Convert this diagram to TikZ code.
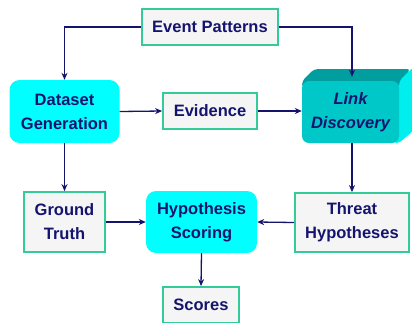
\documentclass[tikz,border=0pt]{standalone}
\usepackage{fontspec}
\setmainfont{Liberation Sans}
\usepackage{xcolor}
\usetikzlibrary{positioning,arrows.meta,calc}
\definecolor{navy}{HTML}{14146E}
\definecolor{frame}{HTML}{33CC99}
\definecolor{paper}{HTML}{F5F5F5}
\definecolor{aqua}{HTML}{00FFFF}
\definecolor{linkfront}{HTML}{00C8C8}
\definecolor{linktop}{HTML}{009E9E}
\definecolor{linkside}{HTML}{00EEEE}

\begin{document}
\begin{tikzpicture}[x=1pt,y=1pt,
  font=\fontsize{16.5}{24}\selectfont\bfseries,
  plain/.style={draw=frame, line width=1.8pt, fill=paper, text=navy, align=center, inner sep=0pt},
  soft/.style={fill=aqua, rounded corners=10pt, text=navy, align=center, inner sep=0pt},
  flow/.style={draw=navy, line width=1.3pt, -{Stealth[length=7pt,width=6pt]}}]
\useasboundingbox (0,0) rectangle (412,-322);
% boxes
\node[plain, minimum width=136pt, minimum height=36pt] (events) at (210,-27) {Event Patterns};
\node[soft, minimum width=110pt, minimum height=63pt] (dataset) at (64.5,-111.5) {Dataset\\Generation};
\node[plain, minimum width=94pt, minimum height=36pt] (evidence) at (210,-111) {Evidence};
% 3d block for link discovery
\fill[linkside, rounded corners=3pt] (394,-86) -- (399,-81) -- (411,-69) -- (413,-69) -- (413,-131) -- (399,-143) -- (394,-143) -- cycle;
\fill[linktop, rounded corners=4pt] (302,-88) -- (302,-81) -- (314,-69) -- (411,-69) -- (399,-81) -- (399,-88) -- cycle;
\node[fill=linkfront, rounded corners=7pt, text=navy, align=center, inner sep=0pt,
  minimum width=97pt, minimum height=62pt] (link) at (350.5,-112) {\itshape Link\\\itshape Discovery};
\node[plain, minimum width=81pt, minimum height=60pt] (ground) at (64.5,-222) {Ground\\Truth};
\node[soft, minimum width=111pt, minimum height=62pt] (hypo) at (201.5,-222) {Hypothesis\\Scoring};
\node[plain, minimum width=114pt, minimum height=59pt] (threat) at (352,-222.5) {Threat\\Hypotheses};
\node[plain, minimum width=76pt, minimum height=36pt] (scores) at (201,-305) {Scores};
% connectors
\draw[flow] (events.west) -| (dataset.north);
\draw[flow] (events.east) -| ([xshift=1.5pt,yshift=4pt]link.north);
\draw[flow] (dataset.east) -- (evidence.west);
\draw[flow] (evidence.east) -- (evidence.east -| link.west);
\draw[flow] (dataset.south) -- (ground.north);
\draw[flow] ([xshift=1.5pt]link.south) -- (threat.north);
\draw[flow] (ground.east) -- (hypo.west);
\draw[flow] (threat.west) -- (hypo.east);
\draw[flow] (hypo.south) -- (scores.north);
\end{tikzpicture}
\end{document}
